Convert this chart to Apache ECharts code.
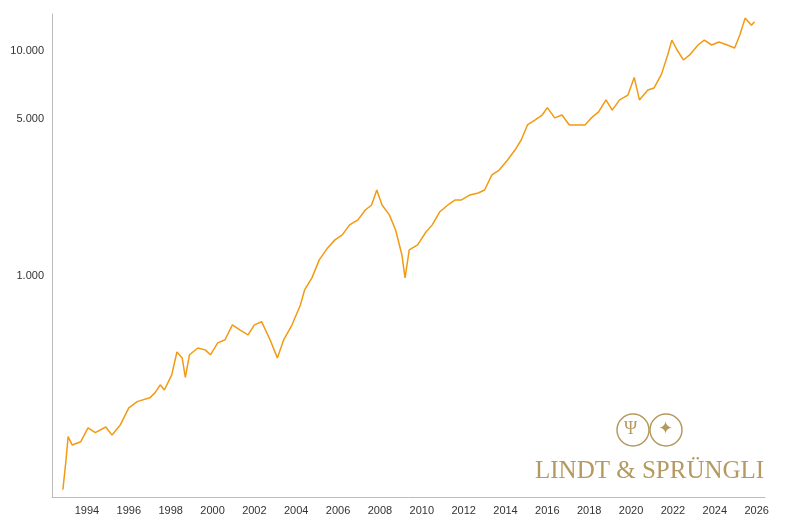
<!DOCTYPE html><html><head><meta charset="utf-8"><script src="https://cdn.jsdelivr.net/npm/echarts@6/dist/echarts.min.js"></script></head><body style="margin:0"><div id="c" style="width:800px;height:520px"></div><script>
const years=[1992.85,1993.0,1993.1,1993.3,1993.7,1994.05,1994.4,1994.9,1995.2,1995.6,1996.0,1996.4,1997.0,1997.25,1997.5,1997.7,1998.05,1998.3,1998.55,1998.7,1998.9,1999.3,1999.65,1999.9,2000.25,2000.6,2000.95,2001.3,2001.7,2002.0,2002.35,2002.75,2003.1,2003.4,2003.8,2004.2,2004.4,2004.75,2005.1,2005.5,2005.85,2006.2,2006.55,2006.95,2007.3,2007.6,2007.85,2008.1,2008.45,2008.75,2009.05,2009.2,2009.4,2009.8,2010.2,2010.5,2010.85,2011.25,2011.6,2011.9,2012.3,2012.7,2013.0,2013.35,2013.7,2014.1,2014.45,2014.75,2015.05,2015.4,2015.75,2016.0,2016.35,2016.7,2017.05,2017.45,2017.8,2018.1,2018.45,2018.8,2019.1,2019.45,2019.85,2020.15,2020.4,2020.8,2021.1,2021.45,2021.75,2021.95,2022.2,2022.5,2022.8,2023.2,2023.5,2023.85,2024.2,2024.6,2024.95,2025.2,2025.45,2025.75,2025.9];
const values=[112,152,193,177,183,211,201,213,196,218,259,276,287,302,328,311,363,459,432,354,446,478,469,446,504,520,606,575,547,606,625,520,432,520,606,743,866,980,1178,1332,1446,1521,1686,1774,1963,2067,2410,2067,1867,1600,1239,980,1304,1373,1567,1686,1923,2067,2176,2176,2290,2337,2410,2812,2954,3274,3627,4020,4690,4930,5190,5600,5040,5190,4690,4690,4690,5040,5360,6060,5460,6060,6370,7630,6060,6710,6850,7870,9600,11170,10100,9120,9600,10630,11170,10630,10960,10630,10310,11800,14000,13000,13500];
const xTicks=[1994,1996,1998,2000,2002,2004,2006,2008,2010,2012,2014,2016,2018,2020,2022,2024,2026];
const yTicks=[1000,5000,10000];
const fmt=v=>String(Math.round(v)).replace(/\B(?=(\d{3})+(?!\d))/g,'.');
const ch=echarts.init(document.getElementById('c'));
ch.setOption({animation:false,
grid:{left:52,right:35,top:14,bottom:23},
xAxis:{type:'value',min:1992.33,max:2026.4,splitLine:{show:false},axisLine:{lineStyle:{color:'#bbb'}},axisTick:{show:false},
 axisLabel:{customValues:xTicks,formatter:v=>String(Math.round(v)),color:'#333',fontSize:11,fontFamily:'Arial, Liberation Sans'}},
yAxis:{type:'log',logBase:10,min:104,max:14600,splitLine:{show:false},axisLine:{show:true,lineStyle:{color:'#bbb'}},axisTick:{show:false},
 axisLabel:{customValues:yTicks,formatter:fmt,color:'#333',fontSize:11,fontFamily:'Arial, Liberation Sans'}},
series:[{type:'line',data:years.map((y,i)=>[y,values[i]]),showSymbol:false,lineStyle:{color:'#f29a12',width:1.5}}],
graphic:[
 {type:'text',left:535,top:459,style:{text:'LINDT & SPRÜNGLI',fill:'#b59a5f',font:'25px "Liberation Serif", serif'}},
 {type:'circle',shape:{cx:633,cy:430,r:16},style:{fill:'none',stroke:'#b59a5f',lineWidth:1.5}},
 {type:'circle',shape:{cx:666,cy:430,r:16},style:{fill:'none',stroke:'#b59a5f',lineWidth:1.5}},
 {type:'text',left:624,top:420,style:{text:'Ψ',fill:'#b59a5f',font:'18px serif'}},
 {type:'text',left:658,top:420,style:{text:'✦',fill:'#b59a5f',font:'18px serif'}}
]});
</script></body></html>
